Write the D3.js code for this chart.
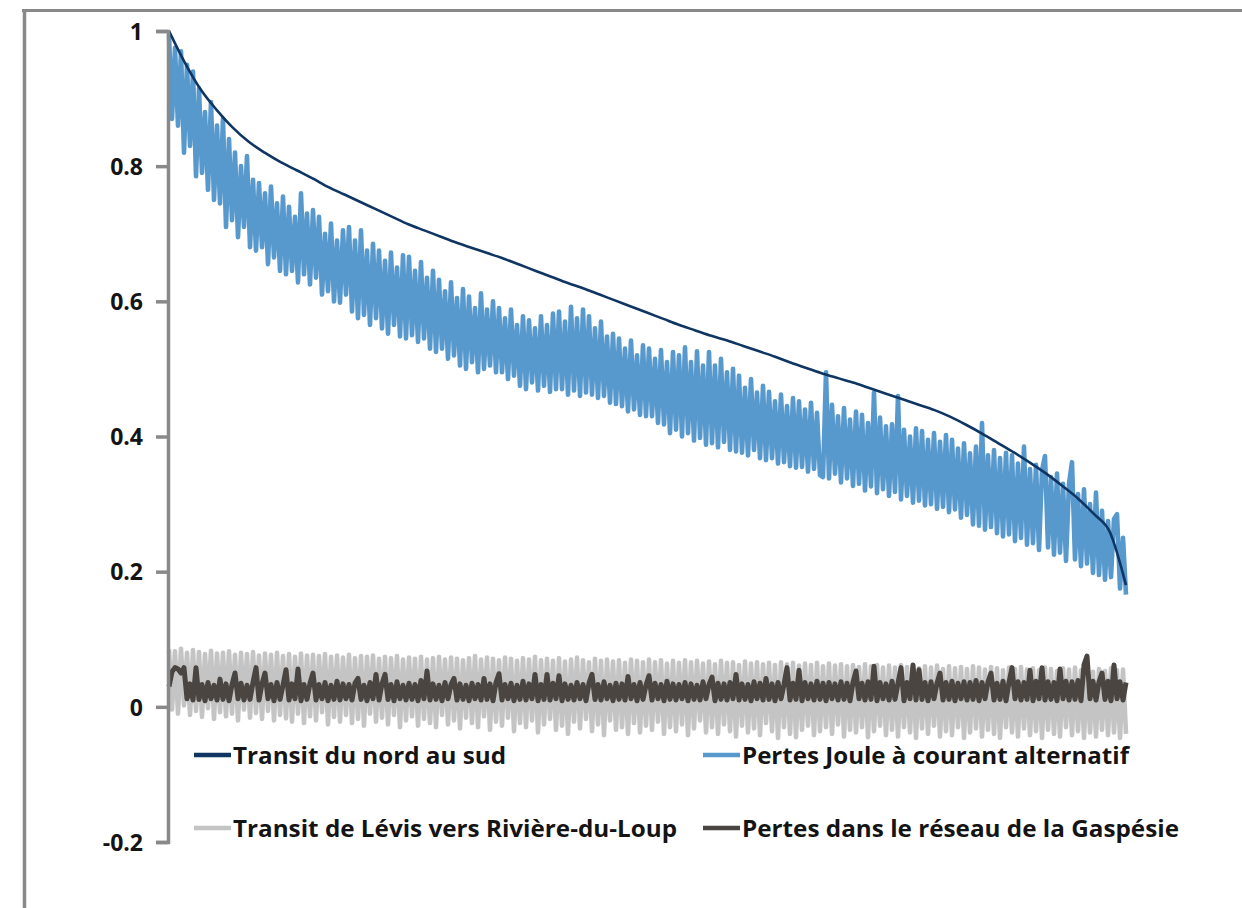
<!DOCTYPE html>
<html>
<head>
<meta charset="utf-8">
<script src="https://cdn.jsdelivr.net/npm/d3@7"></script>
<style>
  html, body { margin: 0; padding: 0; background: #ffffff; }
  svg { display: block; }
  .lbl { font-family: "Open Sans", "Liberation Sans", sans-serif; font-weight: 700; fill: #141414; }
</style>
</head>
<body>
<svg id="chart" width="1242" height="908"></svg>
<script>
// Y axis ticks
const yTicks = [-0.2, 0, 0.2, 0.4, 0.6, 0.8, 1];
const yTickLabels = ["-0.2", "0", "0.2", "0.4", "0.6", "0.8", "1"];

// Legend entries (series names)
const seriesNames = [
  "Transit du nord au sud",
  "Pertes Joule à courant alternatif",
  "Transit de Lévis vers Rivière-du-Loup",
  "Pertes dans le réseau de la Gaspésie"
];

// Transit du nord au sud (sorted, normalised)
const transitNordSud = [
  1.000, 0.953, 0.913, 0.883, 0.857, 0.836, 0.820, 0.806, 0.794, 0.782,
  0.769, 0.758, 0.747, 0.736, 0.725, 0.714, 0.705, 0.696, 0.687, 0.679,
  0.671, 0.663, 0.654, 0.645, 0.636, 0.627, 0.619, 0.610, 0.601, 0.592,
  0.583, 0.574, 0.565, 0.557, 0.549, 0.542, 0.534, 0.526, 0.518, 0.509,
  0.501, 0.493, 0.486, 0.479, 0.471, 0.463, 0.455, 0.447, 0.439, 0.429,
  0.417, 0.404, 0.390, 0.376, 0.361, 0.345, 0.327, 0.308, 0.285, 0.258,
  0.180
];

// Pertes Joule à courant alternatif
const pertesJoule = [
  0.995, 0.87, 0.975, 0.86, 0.97, 0.82, 0.95, 0.83, 0.94, 0.785,
  0.915, 0.79, 0.88, 0.765, 0.895, 0.75, 0.86, 0.745, 0.87, 0.71,
  0.84, 0.72, 0.82, 0.695, 0.80, 0.71, 0.815, 0.68, 0.78, 0.675,
  0.775, 0.68, 0.76, 0.655, 0.77, 0.665, 0.745, 0.645, 0.755, 0.64,
  0.74, 0.645, 0.725, 0.628, 0.76, 0.64, 0.73, 0.625, 0.735, 0.635,
  0.725, 0.61, 0.70, 0.615, 0.715, 0.60, 0.69, 0.598, 0.705, 0.61,
  0.71, 0.585, 0.69, 0.575, 0.705, 0.58, 0.675, 0.565, 0.685, 0.575,
  0.675, 0.56, 0.66, 0.552, 0.672, 0.565, 0.65, 0.548, 0.668, 0.545,
  0.666, 0.55, 0.645, 0.54, 0.658, 0.545, 0.635, 0.53, 0.645, 0.525,
  0.632, 0.53, 0.615, 0.515, 0.628, 0.52, 0.605, 0.505, 0.618, 0.50,
  0.607, 0.51, 0.59, 0.495, 0.612, 0.50, 0.588, 0.505, 0.60, 0.495,
  0.59, 0.495, 0.575, 0.485, 0.588, 0.49, 0.565, 0.475, 0.578, 0.47,
  0.572, 0.48, 0.56, 0.468, 0.578, 0.475, 0.565, 0.466, 0.582, 0.47,
  0.585, 0.47, 0.57, 0.462, 0.592, 0.468, 0.575, 0.46, 0.588, 0.465,
  0.578, 0.462, 0.56, 0.457, 0.57, 0.46, 0.548, 0.45, 0.552, 0.448,
  0.545, 0.445, 0.53, 0.437, 0.542, 0.44, 0.52, 0.432, 0.535, 0.43,
  0.53, 0.43, 0.515, 0.42, 0.528, 0.418, 0.51, 0.405, 0.525, 0.41,
  0.52, 0.40, 0.532, 0.405, 0.51, 0.394, 0.526, 0.398, 0.505, 0.388,
  0.525, 0.39, 0.505, 0.384, 0.515, 0.392, 0.495, 0.38, 0.50, 0.378,
  0.49, 0.376, 0.472, 0.372, 0.485, 0.38, 0.465, 0.368, 0.475, 0.365,
  0.466, 0.368, 0.452, 0.36, 0.462, 0.362, 0.445, 0.356, 0.457, 0.354,
  0.452, 0.355, 0.44, 0.348, 0.45, 0.352, 0.435, 0.343, 0.34, 0.495,
  0.338, 0.447, 0.345, 0.43, 0.332, 0.442, 0.338, 0.425, 0.327, 0.437,
  0.33, 0.432, 0.32, 0.42, 0.326, 0.465, 0.316, 0.428, 0.322, 0.415,
  0.312, 0.418, 0.318, 0.46, 0.307, 0.41, 0.312, 0.40, 0.302, 0.412,
  0.305, 0.408, 0.298, 0.395, 0.30, 0.405, 0.293, 0.392, 0.296, 0.402,
  0.288, 0.395, 0.292, 0.382, 0.28, 0.39, 0.284, 0.375, 0.27, 0.385,
  0.268, 0.42, 0.262, 0.372, 0.266, 0.38, 0.257, 0.368, 0.252, 0.376,
  0.255, 0.372, 0.245, 0.36, 0.25, 0.385, 0.24, 0.352, 0.242, 0.358,
  0.232, 0.35, 0.371, 0.236, 0.34, 0.225, 0.345, 0.228, 0.33, 0.216,
  0.33, 0.362, 0.218, 0.315, 0.208, 0.322, 0.212, 0.30, 0.198, 0.317,
  0.195, 0.29, 0.188, 0.275, 0.192, 0.278, 0.285, 0.175, 0.25, 0.166
];

// Transit de Lévis vers Rivière-du-Loup
const transitLevis = [
  0.085, -0.004, 0.082, -0.01, 0.086, 0.002, 0.08, -0.012, 0.084, -0.006,
  0.081, -0.015, 0.078, -0.002, 0.083, -0.018, 0.079, -0.008, 0.08, -0.014,
  0.082, -0.01, 0.077, -0.02, 0.08, -0.004, 0.078, -0.016, 0.081, -0.009,
  0.076, -0.018, 0.079, -0.006, 0.077, -0.02, 0.08, -0.012, 0.075, -0.017,
  0.078, -0.022, 0.074, -0.01, 0.079, -0.024, 0.076, -0.014, 0.077, -0.02,
  0.075, -0.008, 0.078, -0.026, 0.074, -0.015, 0.076, -0.022, 0.073, -0.012,
  0.077, -0.024, 0.072, -0.018, 0.075, -0.028, 0.074, -0.01, 0.076, -0.022,
  0.071, -0.016, 0.074, -0.026, 0.072, -0.012, 0.075, -0.03, 0.07, -0.02,
  0.073, -0.014, 0.071, -0.028, 0.074, -0.018, 0.07, -0.024, 0.072, -0.03,
  0.074, -0.012, 0.07, -0.026, 0.073, -0.02, 0.071, -0.032, 0.069, -0.016,
  0.072, -0.024, 0.075, -0.03, 0.07, -0.014, 0.073, -0.034, 0.071, -0.022,
  0.069, -0.028, 0.073, -0.016, 0.071, -0.036, 0.068, -0.024, 0.072, -0.03,
  0.07, -0.02, 0.074, -0.038, 0.069, -0.026, 0.071, -0.018, 0.068, -0.034,
  0.072, -0.028, 0.067, -0.04, 0.07, -0.022, 0.073, -0.032, 0.069, -0.018,
  0.066, -0.036, 0.071, -0.026, 0.068, -0.042, 0.07, -0.02, 0.067, -0.034,
  0.069, -0.03, 0.065, -0.04, 0.07, -0.024, 0.068, -0.038, 0.066, -0.028,
  0.07, -0.034, 0.066, -0.022, 0.069, -0.04, 0.064, -0.03, 0.068, -0.036,
  0.065, -0.026, 0.069, -0.042, 0.066, -0.032, 0.068, -0.02, 0.064, -0.038,
  0.067, -0.03, 0.063, -0.04, 0.068, -0.026, 0.065, -0.036, 0.066, -0.044,
  0.062, -0.028, 0.067, -0.038, 0.064, -0.032, 0.066, -0.042, 0.063, -0.024,
  0.065, -0.036, 0.062, -0.046, 0.066, -0.03, 0.063, -0.04, 0.065, -0.045,
  0.061, -0.034, 0.064, -0.028, 0.062, -0.042, 0.065, -0.036, 0.06, -0.03,
  0.064, -0.04, 0.061, -0.026, 0.063, -0.044, 0.06, -0.034, 0.062, -0.038,
  0.059, -0.03, 0.063, -0.045, 0.06, -0.036, 0.062, -0.028, 0.058, -0.042,
  0.061, -0.034, 0.058, -0.044, 0.062, -0.03, 0.059, -0.038, 0.061, -0.046,
  0.057, -0.032, 0.06, -0.04, 0.058, -0.028, 0.061, -0.044, 0.056, -0.036,
  0.06, -0.042, 0.057, -0.03, 0.059, -0.046, 0.056, -0.038, 0.06, -0.032,
  0.058, -0.044, 0.055, -0.034, 0.059, -0.04, 0.057, -0.046, 0.054, -0.03,
  0.058, -0.038, 0.056, -0.044, 0.059, -0.032, 0.055, -0.042, 0.057, -0.036,
  0.054, -0.046, 0.058, -0.034, 0.056, -0.04, 0.053, -0.044, 0.057, -0.03,
  0.055, -0.042, 0.058, -0.036, 0.054, -0.046, 0.056, -0.038, 0.052, -0.044,
  0.056, -0.034, 0.053, -0.042, 0.057, -0.038, 0.054, -0.046, 0.055, -0.04
];

// Pertes dans le réseau de la Gaspésie
const pertesGaspesie = [
  0.03, 0.052, 0.058, 0.056, 0.05, 0.058, 0.012, 0.034, 0.01, 0.058,
  0.011, 0.033, 0.009, 0.036, 0.012, 0.032, 0.01, 0.041, 0.011, 0.034,
  0.009, 0.033, 0.05, 0.012, 0.035, 0.01, 0.032, 0.011, 0.036, 0.058,
  0.01, 0.034, 0.05, 0.012, 0.033, 0.009, 0.036, 0.011, 0.032, 0.055,
  0.01, 0.034, 0.012, 0.056, 0.009, 0.033, 0.011, 0.035, 0.05, 0.01,
  0.033, 0.012, 0.036, 0.009, 0.032, 0.011, 0.038, 0.01, 0.034, 0.012,
  0.033, 0.01, 0.035, 0.042, 0.011, 0.032, 0.009, 0.036, 0.012, 0.048,
  0.01, 0.034, 0.048, 0.011, 0.033, 0.009, 0.037, 0.012, 0.032, 0.01,
  0.035, 0.011, 0.033, 0.009, 0.039, 0.012, 0.053, 0.01, 0.034, 0.011,
  0.032, 0.009, 0.036, 0.012, 0.033, 0.042, 0.01, 0.034, 0.011, 0.032,
  0.009, 0.035, 0.012, 0.033, 0.01, 0.042, 0.011, 0.034, 0.009, 0.036,
  0.049, 0.01, 0.033, 0.012, 0.035, 0.009, 0.032, 0.011, 0.038, 0.01,
  0.034, 0.012, 0.048, 0.009, 0.033, 0.011, 0.048, 0.01, 0.035, 0.012,
  0.046, 0.009, 0.034, 0.011, 0.032, 0.01, 0.036, 0.012, 0.033, 0.009,
  0.035, 0.048, 0.011, 0.033, 0.01, 0.037, 0.012, 0.032, 0.009, 0.035,
  0.011, 0.034, 0.01, 0.045, 0.012, 0.033, 0.009, 0.036, 0.011, 0.032,
  0.046, 0.01, 0.035, 0.012, 0.033, 0.009, 0.038, 0.011, 0.034, 0.01,
  0.033, 0.012, 0.036, 0.009, 0.034, 0.011, 0.032, 0.01, 0.037, 0.012,
  0.033, 0.044, 0.009, 0.035, 0.011, 0.034, 0.01, 0.036, 0.012, 0.048,
  0.01, 0.034, 0.011, 0.033, 0.009, 0.037, 0.012, 0.035, 0.01, 0.042,
  0.011, 0.034, 0.009, 0.036, 0.012, 0.033, 0.058, 0.01, 0.035, 0.011,
  0.054, 0.009, 0.036, 0.012, 0.034, 0.01, 0.038, 0.011, 0.035, 0.009,
  0.036, 0.012, 0.034, 0.01, 0.037, 0.011, 0.035, 0.009, 0.036, 0.053,
  0.012, 0.035, 0.01, 0.037, 0.011, 0.06, 0.009, 0.036, 0.012, 0.034,
  0.01, 0.038, 0.011, 0.035, 0.058, 0.009, 0.036, 0.012, 0.062, 0.01,
  0.055, 0.011, 0.036, 0.009, 0.037, 0.012, 0.035, 0.05, 0.01, 0.036,
  0.011, 0.038, 0.009, 0.035, 0.012, 0.037, 0.01, 0.036, 0.011, 0.039,
  0.009, 0.036, 0.012, 0.037, 0.05, 0.01, 0.035, 0.011, 0.038, 0.009,
  0.036, 0.058, 0.012, 0.037, 0.01, 0.036, 0.011, 0.054, 0.009, 0.038,
  0.012, 0.058, 0.01, 0.037, 0.011, 0.036, 0.009, 0.056, 0.012, 0.038,
  0.01, 0.037, 0.011, 0.039, 0.009, 0.062, 0.075, 0.012, 0.038, 0.01,
  0.037, 0.05, 0.011, 0.038, 0.009, 0.062, 0.012, 0.037, 0.01, 0.036
];

const colors = ["#0f3562", "#5798cd", "#c4c4c4", "#4a4541"];

const svg = d3.select("#chart");
const frameColor = "#898989";

// outer frame (top and left edges)
svg.append("line").attr("x1", 22).attr("x2", 1242).attr("y1", 10.5).attr("y2", 10.5)
  .attr("stroke", frameColor).attr("stroke-width", 3);
svg.append("line").attr("x1", 24.5).attr("x2", 24.5).attr("y1", 9).attr("y2", 908)
  .attr("stroke", frameColor).attr("stroke-width", 3.5);

const x = d3.scaleLinear().domain([0, 1]).range([169, 1126]);
const y = d3.scaleLinear().domain([-0.2, 1]).range([842, 31]);

// each series is spread evenly along the sorted-hour axis
function lineFor(arr, curve) {
  const n = arr.length - 1;
  return d3.line().curve(curve || d3.curveLinear)
    .x((d, i) => x(i / n)).y(d => y(d))(arr);
}

const plot = svg.append("g").attr("fill", "none").attr("stroke-linejoin", "round");
plot.append("path").attr("d", lineFor(pertesJoule))
  .attr("stroke", colors[1]).attr("stroke-width", 4.6);
plot.append("path").attr("d", lineFor(transitNordSud, d3.curveMonotoneX))
  .attr("stroke", colors[0]).attr("stroke-width", 2.6);
plot.append("path").attr("d", lineFor(transitLevis))
  .attr("stroke", colors[2]).attr("stroke-width", 4.6);
plot.append("path").attr("d", lineFor(pertesGaspesie))
  .attr("stroke", colors[3]).attr("stroke-width", 5);

// Y axis
const axis = svg.append("g").attr("transform", "translate(168,0)")
  .call(d3.axisLeft(y).tickValues(yTicks).tickSize(12).tickPadding(13)
    .tickFormat((d, i) => yTickLabels[i]));
axis.select(".domain").attr("stroke", frameColor).attr("stroke-width", 3.5);
axis.selectAll(".tick line").attr("stroke", frameColor).attr("stroke-width", 3.5);
axis.selectAll(".tick text").attr("class", "lbl").attr("font-size", 23)
  .attr("fill", "#141414").style("font-family", "'Open Sans', sans-serif")
  .style("font-weight", 700).attr("dy", "0.36em");

// Legend: two columns, two rows
const legendPos = [
  { lx: 194, ty: 755, tw: 273 },
  { lx: 703, ty: 755, tw: 387 },
  { lx: 194, ty: 828, tw: 444 },
  { lx: 703, ty: 828, tw: 437 }
];
const leg = svg.append("g");
seriesNames.forEach((name, k) => {
  const p = legendPos[k];
  leg.append("line").attr("x1", p.lx).attr("x2", p.lx + 37)
    .attr("y1", p.ty).attr("y2", p.ty)
    .attr("stroke", colors[k]).attr("stroke-width", 4.5);
  leg.append("text").attr("class", "lbl").attr("x", p.lx + 39).attr("y", p.ty + 9)
    .attr("font-size", 23).attr("textLength", p.tw).attr("lengthAdjust", "spacingAndGlyphs")
    .text(name);
});
</script>
</body>
</html>
